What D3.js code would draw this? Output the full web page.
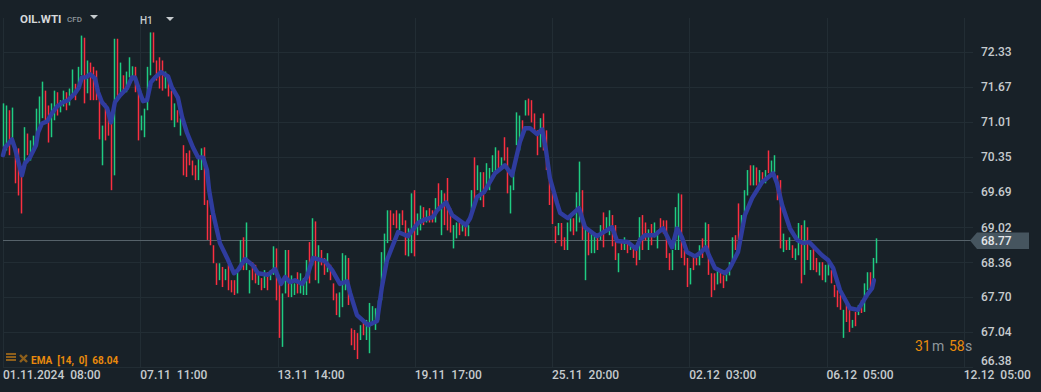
<!DOCTYPE html>
<html>
<head>
<meta charset="utf-8">
<script src="https://cdn.jsdelivr.net/npm/d3@7"></script>
<style>
html, body { margin: 0; padding: 0; background: #182128; overflow: hidden; }
svg { display: block; font-family: Roboto, sans-serif; }
text { white-space: pre; }
</style>
</head>
<body>
<script>
const WIDTH = 1041;
const HEIGHT = 392;

// price scale labels
const priceTicks = [72.33, 71.67, 71.01, 70.35, 69.69, 69.02, 68.36, 67.70, 67.04, 66.38];
const lastPrice = 68.77;

// time labels, positions are counted in candles from the left edge
const timeLabels = ["01.11.2024  08:00", "07.11  11:00", "13.11  14:00", "19.11  17:00",
    "25.11  20:00", "02.12  03:00", "06.12  05:00", "12.12  05:00"];
const timeTicks = [0, 45.75, 91.5, 137.25, 183, 228.75, 274.5, 320.25];

const highs = [
    71.36,71.32,71.23,71.28,70.53,70.51,70.10,70.91,70.79,70.66,
    70.75,71.26,71.49,71.77,71.60,71.32,71.36,71.60,71.57,71.42,
    71.60,71.57,71.64,72.00,71.73,72.05,72.64,72.60,72.17,72.13,
    72.05,71.98,71.55,70.94,71.36,71.23,71.13,72.58,72.58,72.13,
    71.89,71.96,72.23,72.06,72.05,71.57,71.13,71.26,72.05,72.70,
    72.70,72.17,72.23,72.17,71.96,71.85,71.60,71.36,71.23,71.08,
    70.57,70.42,70.47,70.28,70.19,70.32,70.51,70.53,69.53,69.25,
    68.68,68.34,68.34,68.27,68.23,68.31,68.02,68.02,68.23,68.78,
    68.83,69.11,68.21,68.36,68.31,68.17,68.06,68.21,68.17,68.21,
    68.66,68.62,68.02,67.77,68.59,68.59,68.11,67.96,68.17,68.15,
    68.06,68.40,68.74,69.19,69.13,68.68,68.59,68.44,68.53,68.31,
    67.96,67.77,67.79,68.53,68.49,68.44,67.11,67.08,67.02,67.17,
    67.23,67.27,67.59,67.53,67.49,67.64,68.55,68.90,69.34,69.34,
    69.28,69.34,69.28,69.34,69.15,69.00,69.66,69.72,69.28,69.43,
    69.40,69.34,69.38,69.34,69.57,69.85,69.72,69.66,69.95,69.38,
    69.06,69.11,69.11,69.10,69.06,69.06,69.72,70.34,70.19,70.06,
    70.06,70.23,70.14,70.38,70.53,70.47,70.34,70.72,70.53,69.81,
    70.15,71.19,71.13,71.04,71.42,71.45,71.42,71.17,70.85,71.08,
    71.17,70.85,69.91,69.68,69.04,69.10,69.10,68.83,69.11,69.25,
    69.19,69.68,70.26,69.72,69.00,68.96,68.92,68.87,68.83,69.06,
    69.30,69.21,69.34,69.25,69.06,68.53,68.78,68.83,68.72,68.72,
    68.66,68.68,69.21,69.25,69.11,68.98,69.08,69.11,68.96,69.19,
    69.15,69.15,68.53,68.59,69.40,69.66,69.64,68.59,68.44,68.25,
    68.47,68.44,68.68,68.81,69.11,69.08,68.15,68.15,68.19,68.19,
    68.11,68.19,68.36,68.83,68.87,69.47,69.25,69.72,70.10,70.19,
    70.19,70.15,70.10,70.06,70.10,70.47,70.28,70.38,70.00,69.91,
    68.90,68.78,68.83,68.68,68.62,69.10,69.06,69.15,69.02,68.59,
    68.66,68.44,68.36,68.36,68.31,68.34,68.21,67.93,67.83,67.74,
    67.46,67.60,67.51,67.27,67.42,67.55,67.64,67.96,68.17,68.17,
    68.44,68.81];

const lows = [
    70.53,70.47,70.38,70.57,69.85,69.62,69.28,70.13,70.38,70.28,
    70.47,70.57,70.94,71.08,71.04,70.62,70.72,71.04,71.13,71.19,
    71.30,71.23,71.32,71.51,71.42,71.64,71.89,71.36,71.55,71.42,
    71.42,71.42,70.68,70.19,70.66,70.75,69.72,70.00,71.42,71.55,
    71.60,71.57,71.85,71.79,71.57,70.66,70.85,70.72,71.23,71.89,
    72.13,71.79,71.64,71.60,71.64,71.49,71.04,70.91,71.00,70.75,
    70.00,69.97,70.19,70.00,69.91,69.91,70.10,69.44,68.78,68.68,
    68.34,67.93,68.02,67.89,68.02,67.83,67.79,67.74,67.77,68.21,
    68.21,68.21,67.77,68.02,67.96,67.93,67.83,67.87,67.83,68.02,
    68.12,67.64,66.93,66.76,67.77,67.70,67.70,67.74,67.77,67.77,
    67.74,67.74,67.96,68.30,68.02,67.96,68.30,68.12,68.17,68.02,
    67.64,67.36,67.32,67.51,67.83,67.55,66.79,66.70,66.53,66.89,
    66.98,66.89,66.64,67.17,67.08,67.27,67.64,68.17,68.72,68.78,
    69.06,69.00,68.96,69.06,68.49,68.47,68.53,68.47,68.87,68.96,
    69.06,69.11,69.11,69.11,69.11,69.34,68.87,69.06,68.96,68.92,
    68.62,68.81,68.87,68.94,68.85,68.85,69.25,69.38,69.72,69.53,
    69.40,69.76,69.72,70.06,70.06,70.13,70.10,70.28,69.66,69.28,
    69.72,70.57,70.47,70.79,71.13,71.13,71.00,70.79,70.38,70.53,
    70.47,70.10,69.44,69.08,68.72,68.87,68.66,68.59,68.59,68.94,
    68.87,68.94,69.11,68.78,68.02,68.49,68.53,68.53,68.59,68.78,
    68.64,68.92,68.87,68.66,68.40,68.17,68.59,68.59,68.53,68.59,
    68.44,68.30,68.40,68.59,68.77,68.59,68.68,68.83,68.62,68.92,
    68.90,68.44,68.21,68.21,68.59,68.59,68.44,68.30,67.89,67.94,
    68.21,68.30,68.30,68.44,68.62,68.12,67.70,67.83,67.94,67.96,
    67.87,68.00,68.11,68.30,68.59,68.64,68.87,69.28,69.62,69.81,
    69.81,69.81,69.81,69.85,69.85,70.04,70.00,70.06,69.53,68.62,
    68.55,68.59,68.59,68.44,68.40,68.49,67.96,68.12,68.40,68.21,
    68.21,68.17,68.11,68.02,67.98,68.11,67.96,67.70,67.51,67.46,
    66.93,67.23,67.04,67.12,67.15,67.36,67.40,67.42,67.83,67.83,
    67.94,68.34];

// g = closed up, r = closed down
const directions = (
    "ggrgrrrgrg" + "ggggrrggrg" + "grggrggrgr" + "rrrgrrrgrg" + "rgggrrgggg" +
    "rrrrgrrgrg" + "rrrrrggrrr" + "rrgrgrrrgg" + "rggrrgrgrg" + "grrggrggrg" +
    "ggrgrgrrgr" + "rrgggrrrrg" + "rggggggggr" + "rrgrrggrgg" + "rgrrgrgrrr" +
    "ggrgrggrgg" + "rggggrgrrg" + "gggrgrrrrg" + "rrrrrgrrgg" + "rggrgrggrg" +
    "rggrrgrgrg" + "rrgrrgrggr" + "rrrgggrrrg" + "rrgrgrrrgr" + "rgggrrgggr" +
    "grgrgrggrr" + "grgrggrgrg" + "rrgrggrrrr" + "grrgrgrggr" + "gg").split("");

// EMA 14, read at these candle positions
const emaAt = [
    0,0.7,1.7,3,4,5,6.3,7.3,9,11,11.7,13,14.7,16.3,18,20,21.7,24,25.3,26.3,
    27.7,29,30.7,31.7,33,34.7,36,37.3,39,41.3,43,44,45.7,46.7,48,49.3,50.7,52.7,55,56.3,
    58.3,59.7,61.3,63.3,65,66.7,68,68.7,70,71.3,72.3,74.7,77,78.3,80.7,83.3,85,88.3,90.7,92.7,
    94,95.7,97.3,99.7,101.3,103.3,107.3,109.7,112.3,114.7,115.7,118,121.7,124.7,126.3,128,131.7,135,138.3,140.7,
    143.3,144.7,147.7,149.7,154.3,155.7,158,160.3,164,167.3,169.7,172.3,174,175.7,178,179.7,181,182.3,184.7,185.7,
    188.3,192,194,198,203,204.7,208.3,211,212.3,214,217.3,220,221.7,223,224.7,226.3,228,230.7,232.3,234.3,
    235.3,237.3,240.7,242.3,245,247.3,249.7,253,256.7,258,259.7,262.3,264.7,266.7,268.7,273,275,276.7,279,282.3,
    285,288,289.7,290.3];
const emaValues = [
    70.38,70.53,70.59,70.68,70.51,70.28,70.00,70.23,70.34,70.57,70.81,70.98,71.02,71.17,71.30,71.38,71.42,71.55,71.66,71.85,
    71.85,71.91,71.83,71.57,71.38,71.27,71.00,71.38,71.51,71.64,71.85,71.85,71.55,71.40,71.42,71.76,71.85,71.95,71.87,71.66,
    71.47,71.10,70.81,70.53,70.34,70.34,70.10,69.72,69.29,68.97,68.72,68.44,68.15,68.21,68.42,68.30,68.15,68.12,68.23,67.95,
    68.08,67.98,68.02,67.95,68.08,68.44,68.38,68.21,67.95,68.00,67.78,67.36,67.17,67.25,67.89,68.40,68.93,68.85,69.10,69.17,
    69.21,69.34,69.49,69.25,69.06,69.19,69.59,69.68,70.04,70.19,70.00,70.63,70.89,70.89,70.78,70.87,70.47,69.95,69.47,69.29,
    69.19,69.38,69.02,68.85,69.02,68.76,68.74,68.61,68.78,68.87,68.87,69.00,68.81,68.64,69.00,68.83,68.55,68.47,68.53,68.64,
    68.49,68.25,68.15,68.25,68.55,69.25,69.57,69.87,70.04,69.85,69.44,69.00,68.78,68.72,68.74,68.49,68.40,68.25,67.83,67.49,
    67.46,67.74,67.87,68.02];

const COLORS = {
    grid: "#222d34",
    label: "#c6cbce",
    up: "#1fcc82",
    down: "#fb2f40",
    ema: "#2f3c9f",
    orange: "#e98a0c",
    price: "#56626a",
    priceBox: "#46555f"
};

const svg = d3.select("body").append("svg")
    .attr("width", WIDTH)
    .attr("height", HEIGHT);

const x = d3.scaleLinear()
    .domain([0, 291])
    .range([3, 876]);

const y = d3.scaleLinear()
    .domain([66.38, 72.33])
    .range([367, 52]);

// horizontal grid and price labels
const yAxis = d3.axisRight(y)
    .tickValues(priceTicks)
    .tickFormat(d3.format(".2f"))
    .tickSize(-970)
    .tickPadding(8);

const yAxisG = svg.append("g")
    .attr("transform", "translate(973,0)")
    .call(yAxis);

yAxisG.select(".domain").remove();
yAxisG.selectAll("line").attr("stroke", COLORS.grid).attr("shape-rendering", "crispEdges");
yAxisG.selectAll("text")
    .attr("fill", COLORS.label)
    .attr("font-size", 12)
    .attr("font-family", "Roboto, sans-serif")
    .attr("font-weight", 500);
// lowest label sits above the time axis
yAxisG.selectAll("text").filter(d => d === 66.38).attr("dy", "-0.2em");

// vertical grid and time labels
const xAxis = d3.axisBottom(x)
    .tickValues(timeTicks)
    .tickFormat((d, i) => timeLabels[i])
    .tickSize(-349)
    .tickPadding(4);

const xAxisG = svg.append("g")
    .attr("transform", "translate(0,367)")
    .call(xAxis);

xAxisG.select(".domain").remove();
xAxisG.selectAll("line").attr("stroke", COLORS.grid).attr("shape-rendering", "crispEdges");
xAxisG.selectAll("text")
    .attr("fill", COLORS.label)
    .attr("font-size", 12)
    .attr("font-family", "Roboto, sans-serif")
    .attr("font-weight", 500)
    .attr("text-anchor", "start")
    .attr("x", -0.5)
    .attr("y", 3);

// last price line and its tag
const tagY = Math.round(y(lastPrice)) + 0.5;
svg.append("line")
    .attr("x1", 3).attr("x2", 972)
    .attr("y1", tagY).attr("y2", tagY)
    .attr("stroke", COLORS.price);

svg.append("path")
    .attr("d", "M970," + tagY + "L977," + (tagY - 8) + "H1029V" + (tagY + 8.5) + "H977Z")
    .attr("fill", COLORS.priceBox);

svg.append("text")
    .attr("x", 981)
    .attr("y", tagY + 4.5)
    .attr("fill", "#e4e7e9")
    .attr("font-size", 12)
    .attr("font-weight", 500)
    .text(lastPrice.toFixed(2));

// candles are thin enough that only the high-low range shows
svg.append("g")
    .selectAll("line")
    .data(highs)
    .join("line")
    .attr("x1", (d, i) => x(i) + 0.5)
    .attr("x2", (d, i) => x(i) + 0.5)
    .attr("y1", d => y(d))
    .attr("y2", (d, i) => y(lows[i]))
    .attr("stroke", (d, i) => directions[i] === "g" ? COLORS.up : COLORS.down)
    .attr("stroke-width", 1.5);

const emaLine = d3.line()
    .x((d, i) => x(emaAt[i]))
    .y(d => y(d));

svg.append("path")
    .datum(emaValues)
    .attr("d", emaLine)
    .attr("fill", "none")
    .attr("stroke", COLORS.ema)
    .attr("stroke-width", 4.4)
    .attr("stroke-linejoin", "round")
    .attr("stroke-linecap", "round");

// header
svg.append("text").attr("x", 20).attr("y", 23)
    .attr("fill", "#d5d8da").attr("font-size", 11.5).attr("font-weight", 700)
    .text("OIL.WTI");
svg.append("text").attr("x", 67).attr("y", 22)
    .attr("fill", "#8f979c").attr("font-size", 8).attr("font-weight", 500)
    .text("CFD");
svg.append("text").attr("x", 140).attr("y", 24)
    .attr("fill", "#c6cbce").attr("font-size", 10).attr("font-weight", 500)
    .text("H1");

svg.selectAll(".caret")
    .data([94, 170])
    .join("path")
    .attr("class", "caret")
    .attr("d", (d, i) => "M" + (d - 4) + "," + (15 + i * 2) + "h8l-4,4z")
    .attr("fill", "#c6cbce");

// EMA caption with its two small icons
const iconColor = "#8d5f1c";
svg.append("g").selectAll("rect")
    .data([0, 1, 2])
    .join("rect")
    .attr("x", 6).attr("y", d => 353 + d * 3)
    .attr("width", 10).attr("height", 2)
    .attr("fill", iconColor);
svg.append("path")
    .attr("d", "M20,355l7,7M27,355l-7,7")
    .attr("stroke", iconColor)
    .attr("stroke-width", 2.4);

svg.append("text").attr("x", 31).attr("y", 364)
    .attr("fill", COLORS.orange).attr("font-size", 10).attr("font-weight", 700)
    .text("EMA  [14,  0]  68.04");

// countdown
const timer = svg.append("text").attr("y", 351).attr("font-size", 14);
timer.append("tspan").attr("x", 915).attr("fill", COLORS.orange).text("31");
timer.append("tspan").attr("x", 932).attr("fill", "#8f979c").text("m");
timer.append("tspan").attr("x", 949).attr("fill", COLORS.orange).text("58");
timer.append("tspan").attr("x", 965).attr("fill", "#8f979c").text("s");
</script>
</body>
</html>
